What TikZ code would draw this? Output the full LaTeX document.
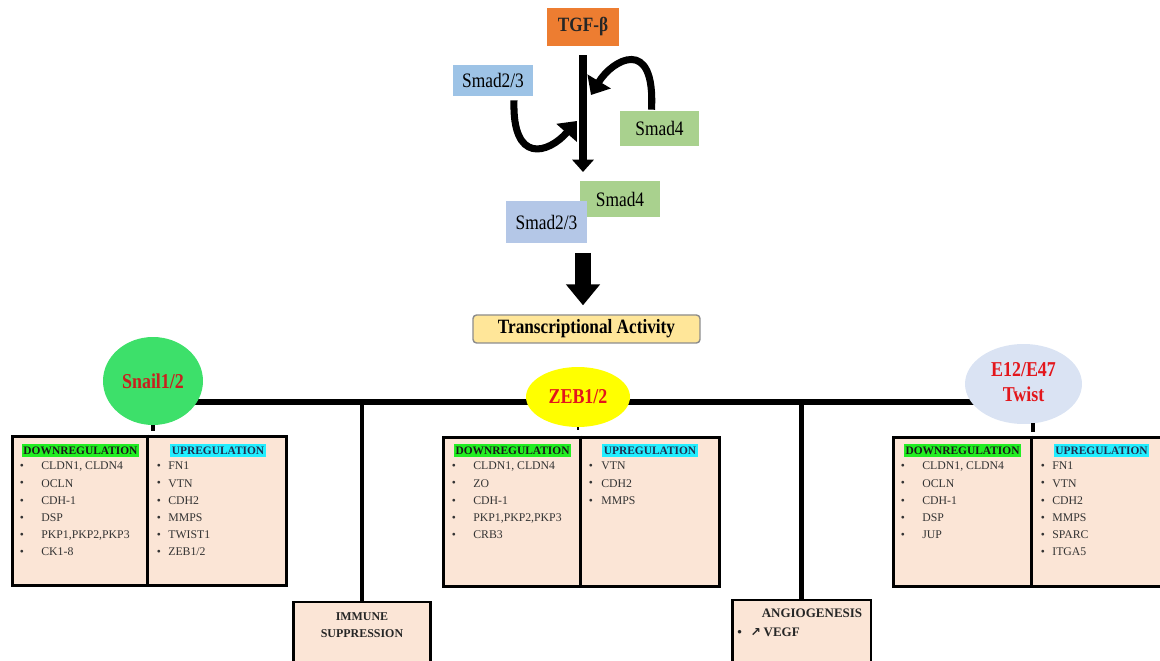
\documentclass[tikz,border=0pt]{standalone}
\usepackage{graphicx}
\usepackage{fontspec}
\setmainfont{Liberation Serif}
\newfontfamily\symfont{DejaVu Sans}
\usetikzlibrary{shapes.geometric,arrows.meta,calc}
\pgfdeclarelayer{bg}
\pgfsetlayers{bg,main}
\definecolor{tgfor}{HTML}{ED7D31}
\definecolor{smadblue}{HTML}{9DC3E6}
\definecolor{smadblueb}{HTML}{B4C7E7}
\definecolor{smadgreen}{HTML}{A9D18E}
\definecolor{transy}{HTML}{FFE699}
\definecolor{snailg}{HTML}{3DE06A}
\definecolor{zeby}{HTML}{FFFF00}
\definecolor{e12b}{HTML}{DAE3F3}
\definecolor{peach}{HTML}{FBE5D6}
\definecolor{hlgreen}{HTML}{22EE22}
\definecolor{hlcyan}{HTML}{22EEFF}
\definecolor{lblred}{HTML}{E3161B}
\definecolor{snailred}{HTML}{C8201E}
\definecolor{itemgray}{HTML}{333333}
\definecolor{upnavy}{HTML}{1F3050}
\newcommand\fsz[2]{\fontsize{#1}{#2}\selectfont}
\newcommand\tall[1]{\scalebox{1}[1.18]{#1}}
\newcommand\itemcol[4]{%
  \foreach \t [count=\i from 0] in {#4} {
    \node[bul] (#1b\i) at (#2,467+17.2*\i) {\textbullet};
    \node[itm] (#1t\i) at (#3,467+17.2*\i) {\t};
  }}
\begin{document}
\begin{tikzpicture}[x=0.02cm,y=-0.02cm,
  flat/.style={inner sep=0, draw=none},
  smadtxt/.style={font=\fsz{9.9}{11}},
  bigbox/.style={draw=black, line width=1.7pt, fill=peach, inner sep=0},
  conn/.style={draw=black, line width=2.3pt},
  hline/.style={draw=black, line width=2.9pt},
  hdr/.style={inner xsep=1pt, inner ysep=0.8pt, text height=4.7pt, text depth=0.7pt, font=\fsz{6.5}{7}\bfseries},
  bul/.style={inner sep=0, font=\fsz{6.6}{7}, text=itemgray},
  itm/.style={inner sep=0, anchor=west, text height=4.6pt, text depth=1.2pt, font=\fsz{6.7}{7}, text=itemgray},
  ellab/.style={ellipse, inner sep=0, draw=none, font=\fsz{10.2}{12}\bfseries},
  curvarrow/.style={draw=black, line width=4pt, -{Triangle[width=15pt,length=9pt]}},
]
\useasboundingbox (0,0) rectangle (1160,661);

% top part
\node[flat, fill=tgfor, minimum width=1.44cm, minimum height=0.76cm, font=\fsz{9.8}{11}\bfseries, text=black!85] (tgf) at (583,27) {\tall{TGF-β}};
\node[flat, fill=smadblue, minimum width=1.6cm, minimum height=0.62cm, smadtxt] (s23a) at (493,80.5) {\tall{Smad2/3}};
\node[flat, fill=smadgreen, minimum width=1.58cm, minimum height=0.70cm, smadtxt] (s4a) at (659.5,128.5) {\tall{Smad4}};
\node[flat, fill=smadgreen, minimum width=1.6cm, minimum height=0.72cm, smadtxt] (s4b) at (620,199) {\tall{Smad4}};
\node[flat, fill=smadblueb, minimum width=1.62cm, minimum height=0.84cm, smadtxt] (s23b) at (546.5,222) {\tall{Smad2/3}};
\node[draw=black!45, line width=0.8pt, rounded corners=2pt, fill=transy, minimum width=4.54cm, minimum height=0.56cm, inner sep=0, font=\fsz{9.8}{11}\bfseries] (trans) at (586.5,329) {\tall{Transcriptional Activity}};

\coordinate (mtip) at (583,172);
\draw[draw=black, line width=4.8pt, shorten <=5.1pt, -{Triangle[width=12pt,length=7pt]}] (tgf.south) -- (mtip);

\coordinate (ltip) at (577,121);
\draw[curvarrow] ($(s23a.south)+(21,4)$) .. controls +(-2,64) and (548,154) .. (ltip);
\coordinate (rtip) at (591,95);
\draw[curvarrow] ($(s4a.north)+(-8,-1)$) .. controls +(4,-75) and (612,60) .. (rtip);

\coordinate (fa) at (583,253);
\draw[draw=black, line width=9.1pt, shorten >=5.1pt, -{Triangle[width=18.8pt,length=12pt]}] (fa) -- (fa |- trans.north);

% transcription factor ellipses
\node[ellab, fill=snailg, minimum width=2.0cm, minimum height=1.76cm, text=snailred] (snail) at (153,381) {\tall{Snail1/2}};
\node[ellab, fill=zeby, minimum width=2.08cm, minimum height=1.2cm, text=lblred] (zeb) at (578,397) {\tall{ZEB1/2}};
\node[ellab, fill=e12b, minimum width=2.34cm, minimum height=1.6cm, text=lblred] (e12) at (1023.5,384) {\tall{\begin{tabular}{@{}c@{}}E12/E47\\Twist\end{tabular}}};

\coordinate (hy) at (0,402);
\begin{pgfonlayer}{bg}
\draw[hline] (snail.center |- hy) -- (e12.center |- hy);
\end{pgfonlayer}

% boxes
\node[bigbox, minimum width=5.5cm, minimum height=3.0cm] (sbox) at (149.5,511) {};
\node[bigbox, minimum width=5.54cm, minimum height=3.0cm] (zbox) at (581.5,512) {};
\node[bigbox, minimum width=5.64cm, minimum height=3.0cm] (ebox) at (1034,512) {};
\node[bigbox, minimum width=2.76cm, minimum height=1.56cm] (immune) at (362,641) {};
\node[bigbox, minimum width=2.78cm, minimum height=1.6cm] (angio) at (801.5,640) {};

\draw[line width=1.5pt] ($(sbox.north west)+(137,0)$) -- ($(sbox.south west)+(137,0)$);
\draw[line width=1.5pt] ($(zbox.north west)+(139,0)$) -- ($(zbox.south west)+(139,0)$);
\draw[line width=1.5pt] ($(ebox.north west)+(140,0)$) -- ($(ebox.south west)+(140,0)$);

% stubs and branches
\draw[conn] (snail.south) -- ($(snail.south |- sbox.north)+(0,-4)$);
\draw[line width=1.3pt] (zeb.south) -- ($(zeb.south)+(0,3)$);
\coordinate (ediv) at (1033,437);
\draw[conn] ($(ediv |- e12.south)+(0,-1)$) -- ($(ediv)+(0,-5)$);
\draw[conn] (immune.north |- hy) -- (immune.north);
\draw[conn] (angio.north |- hy) -- (angio.north);

% headers
\node[hdr, fill=hlgreen, text=black!90] (sdown) at (80.5,450.5) {DOWNREGULATION};
\node[hdr, fill=hlcyan, text=upnavy] (sup) at (218,450.5) {UPREGULATION};
\node[hdr, fill=hlgreen, text=black!90] (zdown) at (512.5,450.5) {DOWNREGULATION};
\node[hdr, fill=hlcyan, text=upnavy] (zup) at (650,450.5) {UPREGULATION};
\node[hdr, fill=hlgreen, text=black!90] (edown) at (962.5,450.5) {DOWNREGULATION};
\node[hdr, fill=hlcyan, text=upnavy] (eup) at (1101.5,450.5) {UPREGULATION};

% items
\itemcol{sl}{22}{41}{{CLDN1, CLDN4},OCLN,CDH-1,DSP,{PKP1,PKP2,PKP3},CK1-8}
\itemcol{sr}{159}{168}{FN1,VTN,CDH2,MMPS,TWIST1,ZEB1/2}
\itemcol{zl}{454}{473}{{CLDN1, CLDN4},ZO,CDH-1,{PKP1,PKP2,PKP3},CRB3}
\itemcol{zr}{591}{601}{VTN,CDH2,MMPS}
\itemcol{el}{903}{922}{{CLDN1, CLDN4},OCLN,CDH-1,DSP,JUP}
\itemcol{er}{1043}{1052}{FN1,VTN,CDH2,MMPS,SPARC,ITGA5}

% bottom boxes text
\node[inner sep=0, font=\fsz{6.8}{9.7}\bfseries, align=center, text=black!85] (immtxt) at (362,625) {IMMUNE\\SUPPRESSION};
\node[inner sep=0, font=\fsz{7.4}{8}\bfseries, text=black!85] (angtxt) at (812,613) {ANGIOGENESIS};
\node[inner sep=0, anchor=west, font=\fsz{7.4}{8}\bfseries, text=black!85] (vegf) at (737,632) {\textbullet\hspace{5pt}{\symfont\fsz{7}{8}\bfseries ↗}\hspace{1.5pt}VEGF};
\end{tikzpicture}
\end{document}
